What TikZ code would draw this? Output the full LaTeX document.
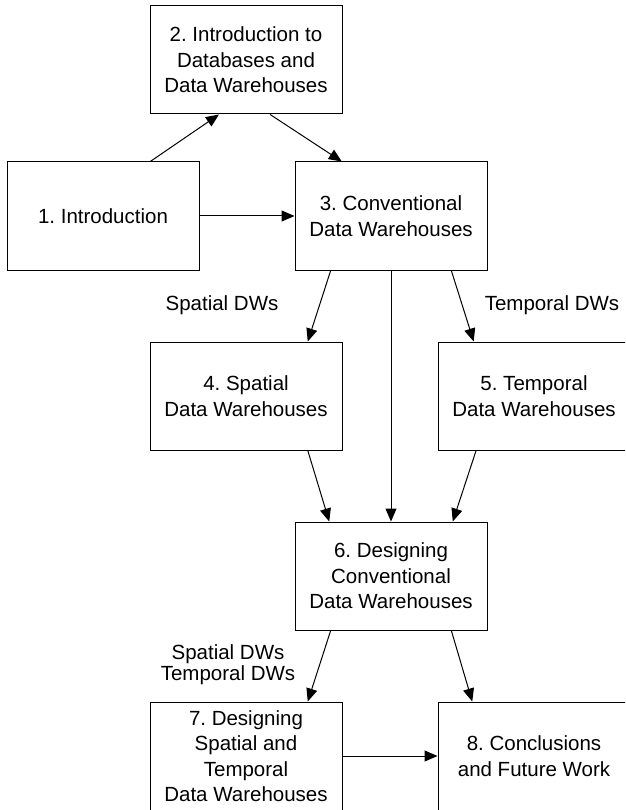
\documentclass[tikz,border=0pt]{standalone}
\usepackage{fontspec}
\setmainfont{Liberation Sans}
\usetikzlibrary{arrows.meta,calc}
\frenchspacing
\tikzset{
  box/.style={draw, line width=1pt, rectangle, minimum width=192pt, minimum height=108pt, inner sep=0pt, align=center, font=\fontsize{20.5}{25.5}\selectfont\frenchspacing},
  lbl/.style={inner sep=0pt, align=center, font=\fontsize{20.5}{21}\selectfont\frenchspacing},
  conn/.style={line width=1pt, -{Triangle[length=13pt,width=11pt]}}
}
\begin{document}
\begin{tikzpicture}[x=1pt,y=-1pt]
\useasboundingbox (0,0) rectangle (625,810);
\clip (0,0) rectangle (625,810);
\fill[white] (0,0) rectangle (625,810);
\node[box] (b1) at (103,216) {1. Introduction};
\node[box] (b2) at (246,60) {2. Introduction to\\Databases and\\Data Warehouses};
\node[box] (b3) at (391,216) {3. Conventional\\Data Warehouses};
\node[box] (b4) at (246,396) {4. Spatial\\Data Warehouses};
\node[box] (b5) at (534,396) {5. Temporal\\Data Warehouses};
\node[box] (b6) at (391,576) {6. Designing\\Conventional\\Data Warehouses};
\node[box] (b7) at (246,756) {7. Designing\\Spatial and\\Temporal\\Data Warehouses};
\node[box] (b8) at (534,756) {8. Conclusions\\and Future Work};
\node[lbl] (l1) at (222,305) {Spatial DWs};
\node[lbl] (l2) at (552,305) {Temporal DWs};
\node[lbl] (l3) at (228,664.5) {Spatial DWs\\Temporal DWs};
\draw[conn] ($(b1.north west)!0.745!(b1.north east)$) -- ($(b2.south west)!0.36!(b2.south east)$);
\draw[conn] ($(b2.south west)!0.625!(b2.south east)$) -- ($(b3.north west)!0.245!(b3.north east)$);
\draw[conn] (b1.east) -- (b3.west);
\draw[conn] ($(b3.south west)!0.1875!(b3.south east)$) -- ($(b4.north west)!0.82!(b4.north east)$);
\draw[conn] ($(b3.south west)!0.8125!(b3.south east)$) -- ($(b5.north west)!0.1875!(b5.north east)$);
\draw[conn] (b3.south) -- (b6.north);
\draw[conn] ($(b4.south west)!0.82!(b4.south east)$) -- ($(b6.north west)!0.18!(b6.north east)$);
\draw[conn] ($(b5.south west)!0.2!(b5.south east)$) -- ($(b6.north west)!0.82!(b6.north east)$);
\draw[conn] ($(b6.south west)!0.1875!(b6.south east)$) -- ($(b7.north west)!0.82!(b7.north east)$);
\draw[conn] ($(b6.south west)!0.8125!(b6.south east)$) -- ($(b8.north west)!0.18!(b8.north east)$);
\draw[conn] (b7.east) -- (b8.west);
\end{tikzpicture}
\end{document}
